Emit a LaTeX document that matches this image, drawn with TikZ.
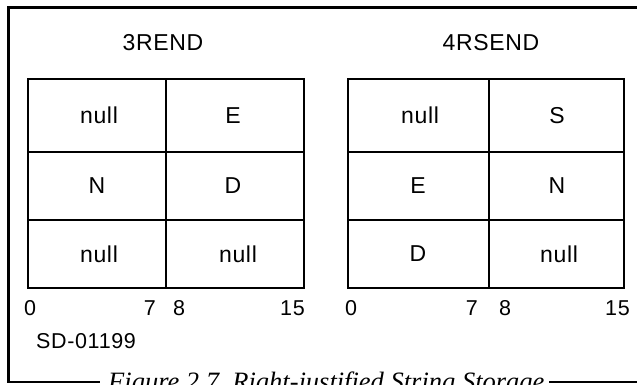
\documentclass[tikz,border=0pt]{standalone}
\usepackage{fontspec}
\setmainfont{Liberation Sans}[LetterSpace=3]
\newfontfamily\capfont{Liberation Serif}
\begin{document}
\begin{tikzpicture}[x=1pt,y=-1pt,
  lbl/.style={inner sep=0pt, font=\fontsize{23}{26}\selectfont},
  ttl/.style={inner sep=0pt, font=\fontsize{23}{26}\selectfont},
  num/.style={inner sep=0pt, font=\fontsize{21.5}{24}\selectfont},
  outer/.style={draw, line width=2.8pt},
  inner/.style={line width=1.8pt},
  frame/.style={line width=2.8pt}]
\useasboundingbox (0,0) rectangle (637,384);
% frame
\node[anchor=base west, inner sep=0pt, font=\capfont\itshape\fontsize{26.5}{30}\selectfont] (cap) at (108,390) {Figure 2.7\ \ Right-justified String Storage};
\coordinate (tl) at (8.5,7.5);
\coordinate (tr) at (637,7.5);
\coordinate (bl) at (8.5,382);
\coordinate (br) at (637,382);
\draw[frame] (tr) -- (tl) -- (bl) -- (100,382);
\draw[frame] (549,382) -- (br);
% titles
\node[ttl] (t1) at (163,43) {3REND};
\node[ttl] (t2) at (491,43) {4RSEND};
% left table
\draw[inner] (166,79) -- (166,288) (28,152) -- (304,152) (28,220) -- (304,220);
\draw[outer] (28,79) rectangle (304,288);
\node[lbl] (a11) at (99,115.5) {null};
\node[lbl] (a12) at (233,115.5) {E};
\node[lbl] (a21) at (97,186) {N};
\node[lbl] (a22) at (233,186) {D};
\node[lbl] (a31) at (99,254) {null};
\node[lbl] (a32) at (238,254) {null};
% right table
\draw[inner] (489,79) -- (489,288) (348,152) -- (624,152) (348,220) -- (624,220);
\draw[outer] (348,79) rectangle (624,288);
\node[lbl] (b11) at (420,115.5) {null};
\node[lbl] (b12) at (557,115.5) {S};
\node[lbl] (b21) at (418,186) {E};
\node[lbl] (b22) at (557,186) {N};
\node[lbl] (b31) at (418,254) {D};
\node[lbl] (b32) at (559,254) {null};
% bit numbers
\node[num, anchor=west] (l0) at (24,308) {0};
\node[num, anchor=east] (l7) at (156,308) {7};
\node[num, anchor=west] (l8) at (173,308) {8};
\node[num, anchor=east] (l15) at (305,308) {15};
\node[num, anchor=west] (r0) at (345,308) {0};
\node[num, anchor=east] (r7) at (478,308) {7};
\node[num, anchor=west] (r8) at (499,308) {8};
\node[num, anchor=east] (r15) at (630,308) {15};
\node[num, anchor=west] (sd) at (36,341) {SD-01199};
\end{tikzpicture}
\end{document}
